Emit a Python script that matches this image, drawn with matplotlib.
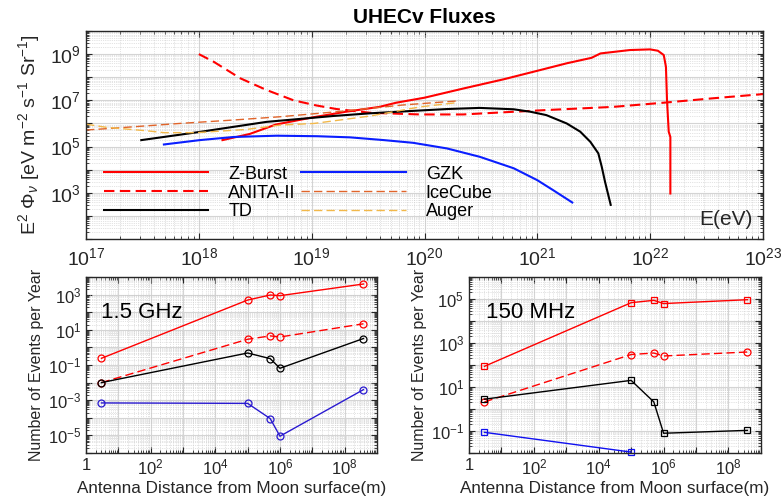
import numpy as np
import matplotlib
matplotlib.use("Agg")
import matplotlib.pyplot as plt
from matplotlib.ticker import LogLocator, FuncFormatter, NullFormatter

plt.rcParams['font.family'] = ['Liberation Sans', 'DejaVu Sans']
plt.rcParams['mathtext.fontset'] = 'custom'
plt.rcParams['mathtext.rm'] = 'Liberation Sans'
plt.rcParams['mathtext.it'] = 'Liberation Sans:italic'
plt.rcParams['mathtext.bf'] = 'Liberation Sans:bold'

# ---------------- Top panel data ----------------
zburst_e = [1.62e18, 2.82e18, 4.79e18, 1.0e19, 2.0e19, 3.98e19, 5.62e19, 1.0e20, 2.24e20,
            5.01e20, 1.0e21, 1.82e21, 3.02e21, 3.63e21, 6.61e21, 1.0e22, 1.17e22, 1.32e22,
            1.38e22, 1.41e22, 1.46e22, 1.51e22, 1.51e22]
zburst_f = [1.9e5, 3.5e5, 8.9e5, 1.8e6, 3.2e6, 5.2e6, 7.9e6, 1.3e7, 3.3e7,
            8.1e7, 1.9e8, 4.0e8, 6.9e8, 1.07e9, 1.5e9, 1.6e9, 1.4e9, 9.1e8,
            2.8e8, 1.0e7, 4.4e5, 2.6e5, 9.3e2]

anita_e = [1.0e18, 1.35e18, 2.34e18, 3.98e18, 6.92e18, 1.10e19, 1.66e19, 3.31e19, 9.12e19,
           2.19e20, 6.17e20, 1.20e21, 4.68e21, 1.32e22, 3.63e22, 1.0e23]
anita_f = [1.0e9, 4.7e8, 8.9e7, 2.8e7, 1.0e7, 6.0e6, 4.2e6, 2.9e6, 2.45e6,
           2.45e6, 3.2e6, 3.8e6, 5.2e6, 7.9e6, 1.23e7, 1.86e7]

td_e = [3.09e17, 1.02e18, 3.98e18, 1.55e19, 3.31e19, 7.94e19, 1.58e20, 3.09e20, 6.17e20,
        8.71e20, 1.20e21, 1.82e21, 2.40e21, 2.95e21, 3.47e21, 3.72e21, 3.98e21, 4.47e21]
td_f = [1.9e5, 4.3e5, 1.17e6, 2.1e6, 2.75e6, 3.5e6, 4.2e6, 4.7e6, 4.1e6,
        3.2e6, 2.3e6, 1.0e6, 4.4e5, 1.6e5, 5.1e4, 1.35e4, 3.0e3, 3.0e2]

gzk_e = [4.90e17, 1.02e18, 2.04e18, 4.90e18, 1.12e19, 2.19e19, 4.37e19, 7.94e19, 1.58e20,
         3.09e20, 6.17e20, 1.0e21, 1.38e21, 2.04e21]
gzk_f = [1.23e5, 1.9e5, 2.6e5, 2.95e5, 2.8e5, 2.5e5, 1.9e5, 1.45e5, 8.3e4,
         3.6e4, 1.15e4, 3.5e3, 1.3e3, 3.8e2]

icecube_e = [1.0e17, 1.74e17, 6.76e17, 2.0e18, 5.25e18, 1.66e19, 6.46e19, 2.0e20]
icecube_f = [5.2e5, 6.2e5, 1.0e6, 1.4e6, 1.95e6, 3.2e6, 6.3e6, 9.5e6]

auger_e = [1.0e17, 1.51e17, 3.47e17, 4.90e17, 9.55e17, 2.63e18, 5.25e18, 1.05e19, 3.31e19,
           9.12e19, 2.0e20]
auger_f = [9.3e5, 6.8e5, 4.8e5, 4.0e5, 4.0e5, 5.5e5, 8.5e5, 1.0e6, 2.1e6, 5.2e6, 8.1e6]

# ---------------- Bottom panels data ----------------
distance = [3, 1e5, 5e5, 1e6, 3.84e8]

ghz_zburst = [0.24, 490, 950, 870, 4000]
ghz_anita = [0.01, 2.9, 4.5, 3.9, 22]
ghz_td = [0.01, 0.48, 0.23, 0.065, 3.2]
ghz_gzk = [7e-4, 6.6e-4, 9e-5, 9e-6, 4e-3]

mhz_zburst = [87, 6.8e4, 8.7e4, 6.2e4, 9.3e4]
mhz_anita = [2.1, 300, 350, 257, 390]
mhz_td = [2.8, 20, 2.1, 0.079, 0.107]
mhz_gzk_dist = [3, 1e5]
mhz_gzk = [0.087, 0.011]

RED = '#ff0000'

fig = plt.figure(figsize=(7.82, 5.0), dpi=100)


def style_axes(ax, labelsize):
    ax.grid(True, which='major', color='#d4d4d4', linewidth=0.8, linestyle='-')
    ax.grid(True, which='minor', color='#c8c8c8', linewidth=0.5, linestyle=':')
    ax.set_axisbelow(True)
    ax.tick_params(which='both', direction='in', top=True, right=True,
                   labelsize=labelsize, colors='#262626')
    ax.tick_params(which='major', length=4, width=0.8)
    ax.tick_params(which='minor', length=2, width=0.6)
    for s in ax.spines.values():
        s.set_linewidth(1.0)
        s.set_color('#262626')


def sci_fmt_every(step, lo, hi, one_label=False, offset=0, skip=()):
    def f(v, pos):
        e = int(round(np.log10(v)))
        if e < lo or e > hi:
            return ''
        if (e - offset) % step != 0 or e in skip:
            return ''
        if one_label and e == 0:
            return '1'
        return r'$10^{%d}$' % e
    return FuncFormatter(f)


# ---------------- Top axes ----------------
ax = fig.add_axes([0.110, 0.522, 0.8657, 0.416])
ax.set_xscale('log')
ax.set_yscale('log')
ax.set_xlim(1e17, 1e23)
ax.set_ylim(1e1, 1e10)
ax.xaxis.set_major_locator(LogLocator(base=10, numticks=20))
ax.xaxis.set_minor_locator(LogLocator(base=10, subs=np.arange(2, 10), numticks=100))
ax.yaxis.set_major_locator(LogLocator(base=10, numticks=20))
ax.yaxis.set_minor_locator(LogLocator(base=10, subs=np.arange(2, 10), numticks=100))
ax.xaxis.set_minor_formatter(NullFormatter())
ax.yaxis.set_minor_formatter(NullFormatter())
ax.xaxis.set_major_formatter(sci_fmt_every(1, 17, 23))
ax.yaxis.set_major_formatter(sci_fmt_every(2, 1, 10, offset=1, skip=(1,)))
style_axes(ax, 14)
ax.tick_params(axis='x', pad=6)

l1, = ax.plot(zburst_e, zburst_f, color=RED, lw=1.5, label='Z-Burst')
l2, = ax.plot(anita_e, anita_f, color=RED, lw=1.5, dashes=(5, 2.6), label='ANITA-II')
l3, = ax.plot(td_e, td_f, color='black', lw=1.5, label='TD')
l4, = ax.plot(gzk_e, gzk_f, color='#0a1eff', lw=1.5, label='GZK')
l5, = ax.plot(icecube_e, icecube_f, color='#e0642a', lw=1.0, dashes=(6, 3), label='IceCube')
l6, = ax.plot(auger_e, auger_f, color='#f2b84a', lw=1.0, dashes=(6, 3), label='Auger')

leg = ax.legend(handles=[l1, l2, l3, l4, l5, l6], ncol=2, loc='upper left',
                bbox_to_anchor=(0.026, 0.352), frameon=False, fontsize=13,
                handlelength=5.8, handletextpad=1.1, columnspacing=0.3,
                labelspacing=0.1, borderpad=0, borderaxespad=0)

ax.text(0.985, 0.05, 'E(eV)', transform=ax.transAxes, ha='right', va='bottom',
        fontsize=15, color='#262626')
ax.set_ylabel(r'E$^2$ $\Phi_{\nu}$ [eV m$^{-2}$ s$^{-1}$ Sr$^{-1}$]', fontsize=14,
              color='#262626', labelpad=6)
ax.set_title('UHECv Fluxes', fontsize=15, fontweight='bold', pad=6)


# ---------------- Bottom axes ----------------
def bottom_axes(rect, ylim, ylo, yhi):
    b = fig.add_axes(rect)
    b.set_xscale('log')
    b.set_yscale('log')
    b.set_xlim(1, 1e9)
    b.set_ylim(*ylim)
    b.xaxis.set_major_locator(LogLocator(base=10, numticks=20))
    b.xaxis.set_minor_locator(LogLocator(base=10, subs=np.arange(2, 10), numticks=100))
    b.yaxis.set_major_locator(LogLocator(base=10, numticks=20))
    b.yaxis.set_minor_locator(LogLocator(base=10, subs=np.arange(2, 10), numticks=100))
    b.xaxis.set_minor_formatter(NullFormatter())
    b.yaxis.set_minor_formatter(NullFormatter())
    b.xaxis.set_major_formatter(sci_fmt_every(2, 0, 9, one_label=True))
    b.yaxis.set_major_formatter(sci_fmt_every(2, ylo, yhi, offset=1))
    style_axes(b, 12)
    b.set_xlabel('Antenna Distance from Moon surface(m)', fontsize=12.3, color='#262626', labelpad=2)
    b.set_ylabel('Number of Events per Year', fontsize=11.5, color='#262626', labelpad=3)
    return b


bl = bottom_axes([0.110, 0.094, 0.372, 0.352], (1e-6, 1e4), -6, 4)
mk = dict(marker='o', markersize=5, markerfacecolor='none', markeredgewidth=0.9, lw=1.0)
bl.plot(distance, ghz_zburst, color=RED, **mk)
bl.plot(distance, ghz_anita, color=RED, dashes=(6, 3), **mk)
bl.plot(distance, ghz_td, color='black', **mk)
bl.plot(distance, ghz_gzk, color='#2a1ad0', **mk)
bl.text(0.05, 0.80, '1.5 GHz', transform=bl.transAxes, fontsize=16, va='center', ha='left')

br = bottom_axes([0.5997, 0.094, 0.3733, 0.352], (1e-2, 1e6), -2, 6)
mks = dict(marker='s', markersize=4.5, markerfacecolor='none', markeredgewidth=0.9, lw=1.0)
br.plot(distance, mhz_zburst, color=RED, **mks)
br.plot(distance, mhz_anita, color=RED, dashes=(6, 3), **mk)
br.plot(distance, mhz_td, color='black', **mks)
br.plot(mhz_gzk_dist, mhz_gzk, color='#1010f0', clip_on=False, **mks)
br.text(0.06, 0.80, '150 MHz', transform=br.transAxes, fontsize=16, va='center', ha='left')

fig.savefig('out.png', dpi=100)
